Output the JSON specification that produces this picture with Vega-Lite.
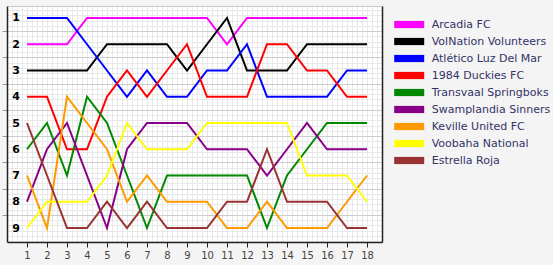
{
  "$schema": "https://vega.github.io/schema/vega-lite/v6.json",
  "width": 375,
  "height": 236,
  "autosize": {"type": "none"},
  "padding": {"left": 7, "top": 6, "right": 171, "bottom": 23},
  "background": "#f4f4f4",
  "config": {"view": {"fill": "white", "stroke": null}},
  "data": {"values": [
    {"round": 1, "Arcadia FC": 2, "VolNation Volunteers": 3, "Atlético Luz Del Mar": 1, "1984 Duckies FC": 4, "Transvaal Springboks": 6, "Swamplandia Sinners": 8, "Keville United FC": 7, "Voobaha National": 9, "Estrella Roja": 5},
    {"round": 2, "Arcadia FC": 2, "VolNation Volunteers": 3, "Atlético Luz Del Mar": 1, "1984 Duckies FC": 4, "Transvaal Springboks": 5, "Swamplandia Sinners": 6, "Keville United FC": 9, "Voobaha National": 8, "Estrella Roja": 7},
    {"round": 3, "Arcadia FC": 2, "VolNation Volunteers": 3, "Atlético Luz Del Mar": 1, "1984 Duckies FC": 6, "Transvaal Springboks": 7, "Swamplandia Sinners": 5, "Keville United FC": 4, "Voobaha National": 8, "Estrella Roja": 9},
    {"round": 4, "Arcadia FC": 1, "VolNation Volunteers": 3, "Atlético Luz Del Mar": 2, "1984 Duckies FC": 6, "Transvaal Springboks": 4, "Swamplandia Sinners": 7, "Keville United FC": 5, "Voobaha National": 8, "Estrella Roja": 9},
    {"round": 5, "Arcadia FC": 1, "VolNation Volunteers": 2, "Atlético Luz Del Mar": 3, "1984 Duckies FC": 4, "Transvaal Springboks": 5, "Swamplandia Sinners": 9, "Keville United FC": 6, "Voobaha National": 7, "Estrella Roja": 8},
    {"round": 6, "Arcadia FC": 1, "VolNation Volunteers": 2, "Atlético Luz Del Mar": 4, "1984 Duckies FC": 3, "Transvaal Springboks": 7, "Swamplandia Sinners": 6, "Keville United FC": 8, "Voobaha National": 5, "Estrella Roja": 9},
    {"round": 7, "Arcadia FC": 1, "VolNation Volunteers": 2, "Atlético Luz Del Mar": 3, "1984 Duckies FC": 4, "Transvaal Springboks": 9, "Swamplandia Sinners": 5, "Keville United FC": 7, "Voobaha National": 6, "Estrella Roja": 8},
    {"round": 8, "Arcadia FC": 1, "VolNation Volunteers": 2, "Atlético Luz Del Mar": 4, "1984 Duckies FC": 3, "Transvaal Springboks": 7, "Swamplandia Sinners": 5, "Keville United FC": 8, "Voobaha National": 6, "Estrella Roja": 9},
    {"round": 9, "Arcadia FC": 1, "VolNation Volunteers": 3, "Atlético Luz Del Mar": 4, "1984 Duckies FC": 2, "Transvaal Springboks": 7, "Swamplandia Sinners": 5, "Keville United FC": 8, "Voobaha National": 6, "Estrella Roja": 9},
    {"round": 10, "Arcadia FC": 1, "VolNation Volunteers": 2, "Atlético Luz Del Mar": 3, "1984 Duckies FC": 4, "Transvaal Springboks": 7, "Swamplandia Sinners": 6, "Keville United FC": 8, "Voobaha National": 5, "Estrella Roja": 9},
    {"round": 11, "Arcadia FC": 2, "VolNation Volunteers": 1, "Atlético Luz Del Mar": 3, "1984 Duckies FC": 4, "Transvaal Springboks": 7, "Swamplandia Sinners": 6, "Keville United FC": 9, "Voobaha National": 5, "Estrella Roja": 8},
    {"round": 12, "Arcadia FC": 1, "VolNation Volunteers": 3, "Atlético Luz Del Mar": 2, "1984 Duckies FC": 4, "Transvaal Springboks": 7, "Swamplandia Sinners": 6, "Keville United FC": 9, "Voobaha National": 5, "Estrella Roja": 8},
    {"round": 13, "Arcadia FC": 1, "VolNation Volunteers": 3, "Atlético Luz Del Mar": 4, "1984 Duckies FC": 2, "Transvaal Springboks": 9, "Swamplandia Sinners": 7, "Keville United FC": 8, "Voobaha National": 5, "Estrella Roja": 6},
    {"round": 14, "Arcadia FC": 1, "VolNation Volunteers": 3, "Atlético Luz Del Mar": 4, "1984 Duckies FC": 2, "Transvaal Springboks": 7, "Swamplandia Sinners": 6, "Keville United FC": 9, "Voobaha National": 5, "Estrella Roja": 8},
    {"round": 15, "Arcadia FC": 1, "VolNation Volunteers": 2, "Atlético Luz Del Mar": 4, "1984 Duckies FC": 3, "Transvaal Springboks": 6, "Swamplandia Sinners": 5, "Keville United FC": 9, "Voobaha National": 7, "Estrella Roja": 8},
    {"round": 16, "Arcadia FC": 1, "VolNation Volunteers": 2, "Atlético Luz Del Mar": 4, "1984 Duckies FC": 3, "Transvaal Springboks": 5, "Swamplandia Sinners": 6, "Keville United FC": 9, "Voobaha National": 7, "Estrella Roja": 8},
    {"round": 17, "Arcadia FC": 1, "VolNation Volunteers": 2, "Atlético Luz Del Mar": 3, "1984 Duckies FC": 4, "Transvaal Springboks": 5, "Swamplandia Sinners": 6, "Keville United FC": 8, "Voobaha National": 7, "Estrella Roja": 9},
    {"round": 18, "Arcadia FC": 1, "VolNation Volunteers": 2, "Atlético Luz Del Mar": 3, "1984 Duckies FC": 4, "Transvaal Springboks": 5, "Swamplandia Sinners": 6, "Keville United FC": 7, "Voobaha National": 8, "Estrella Roja": 9}
  ]},
  "transform": [
    {"fold": ["Arcadia FC", "VolNation Volunteers", "Atlético Luz Del Mar", "1984 Duckies FC", "Transvaal Springboks", "Swamplandia Sinners", "Keville United FC", "Voobaha National", "Estrella Roja"], "as": ["team", "rank"]}
  ],
  "layer": [
    {
      "mark": {"type": "line", "opacity": 0},
      "encoding": {
        "x": {"field": "round", "type": "quantitative", "scale": {"domain": [0, 18.75], "nice": false, "zero": false},
          "axis": {"orient": "bottom", "title": null, "labels": false, "ticks": false, "domain": false, "grid": true, "gridColor": "#e8e8e8", "gridWidth": 1,
            "values": [0,0.25,0.5,0.75,1,1.25,1.5,1.75,2,2.25,2.5,2.75,3,3.25,3.5,3.75,4,4.25,4.5,4.75,5,5.25,5.5,5.75,6,6.25,6.5,6.75,7,7.25,7.5,7.75,8,8.25,8.5,8.75,9,9.25,9.5,9.75,10,10.25,10.5,10.75,11,11.25,11.5,11.75,12,12.25,12.5,12.75,13,13.25,13.5,13.75,14,14.25,14.5,14.75,15,15.25,15.5,15.75,16,16.25,16.5,16.75,17,17.25,17.5,17.75,18,18.25,18.5]}},
        "y": {"field": "rank", "type": "quantitative", "scale": {"domain": [0.543, 9.533], "nice": false, "zero": false, "reverse": true},
          "axis": {"orient": "left", "title": null, "labels": false, "ticks": false, "domain": false, "grid": true, "gridColor": "#e8e8e8", "gridWidth": 1,
            "values": [0.7,0.9,1.1,1.3,1.5,1.7,1.9,2.1,2.3,2.5,2.7,2.9,3.1,3.3,3.5,3.7,3.9,4.1,4.3,4.5,4.7,4.9,5.1,5.3,5.5,5.7,5.9,6.1,6.3,6.5,6.7,6.9,7.1,7.3,7.5,7.7,7.9,8.1,8.3,8.5,8.7,8.9,9.1,9.3,9.5]}}
      }
    },
    {
      "mark": {"type": "line", "opacity": 0},
      "encoding": {
        "x": {"field": "round", "type": "quantitative",
          "axis": {"orient": "top", "title": null, "labels": false, "ticks": false, "domain": true, "domainColor": "#c8c8c8", "grid": false}},
        "y": {"field": "rank", "type": "quantitative",
          "axis": {"orient": "right", "title": null, "labels": false, "ticks": false, "domain": true, "domainColor": "#222222", "domainWidth": 1.5, "grid": true, "gridColor": "#cccccc", "gridWidth": 1,
            "values": [1.5, 2.5, 3.5, 4.5, 5.5, 6.5, 7.5, 8.5]}}
      }
    },
    {
      "mark": {"type": "line", "opacity": 0},
      "encoding": {
        "x": {"field": "round", "type": "quantitative",
          "axis": {"orient": "top", "title": null, "labels": false, "ticks": false, "domain": false, "grid": false, "values": []}},
        "y": {"field": "rank", "type": "quantitative",
          "axis": {"orient": "left", "title": null, "labels": false, "ticks": true, "tickSize": 5, "tickColor": "#999999", "domain": false, "grid": false,
            "values": [1.5, 2.5, 3.5, 4.5, 5.5, 6.5, 7.5, 8.5]}}
      }
    },
    {
      "mark": {"type": "line", "strokeWidth": 2},
      "encoding": {
        "x": {"field": "round", "type": "quantitative",
          "axis": {"orient": "bottom", "title": null, "grid": false, "domain": true, "domainColor": "#222222", "domainWidth": 1.5, "ticks": true, "tickSize": 5, "tickColor": "#222222",
            "labelFont": "DejaVu Sans", "labelFontSize": 10, "labelColor": "#444444", "labelPadding": 3, "labelFlush": false,
            "values": [1,2,3,4,5,6,7,8,9,10,11,12,13,14,15,16,17,18]}},
        "y": {"field": "rank", "type": "quantitative",
          "axis": {"orient": "left", "title": null, "grid": false, "domain": true, "domainColor": "#222222", "domainWidth": 1.5, "ticks": false,
            "labelFont": "DejaVu Sans", "labelFontSize": 11, "labelFontWeight": "bold", "labelColor": "#000000", "labelAlign": "center", "labelPadding": -8.5,
            "values": [1,2,3,4,5,6,7,8,9]}},
        "color": {"field": "team", "type": "nominal",
          "scale": {
            "domain": ["Arcadia FC", "VolNation Volunteers", "Atlético Luz Del Mar", "1984 Duckies FC", "Transvaal Springboks", "Swamplandia Sinners", "Keville United FC", "Voobaha National", "Estrella Roja"],
            "range": ["#ff00ff", "#000000", "#0000ff", "#ff0000", "#008800", "#880088", "#ff9900", "#ffff00", "#993333"]},
          "legend": {"orient": "none", "legendX": 396.7, "legendY": 13, "title": null, "padding": 0,
            "symbolType": "M-3.75,-0.9H3.75V0.9H-3.75Z", "symbolSize": 64, "symbolStrokeWidth": 0,
            "labelOffset": 17, "labelFont": "DejaVu Sans", "labelFontSize": 11, "labelColor": "#333366", "rowPadding": 5,
            "encode": {"symbols": {"update": {"fill": {"scale": "color", "field": "value"}, "stroke": {"value": "transparent"}, "opacity": {"value": 1}}}}}}
      }
    }
  ],
  "resolve": {"axis": {"x": "independent", "y": "independent"}}
}
